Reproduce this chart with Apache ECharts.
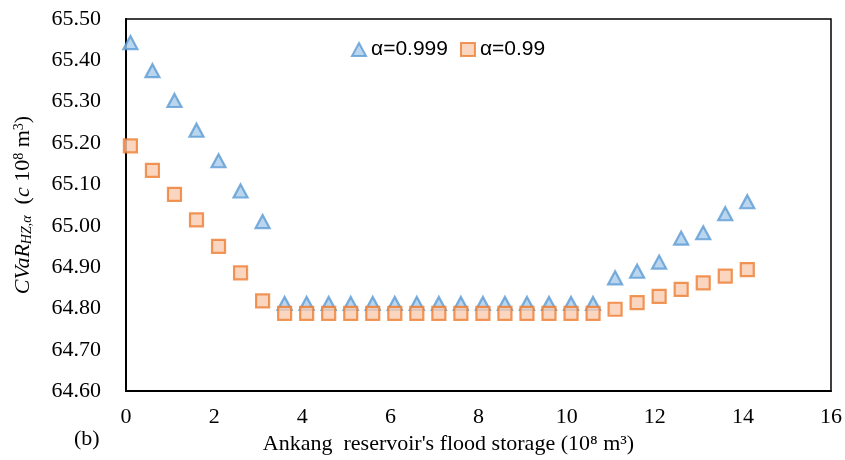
<!DOCTYPE html>
<html>
<head>
<meta charset="utf-8">
<script src="https://cdn.jsdelivr.net/npm/echarts@6/dist/echarts.min.js"></script>
<style>
  html, body { margin: 0; padding: 0; background: #fff; }
  #main { width: 845px; height: 460px; }
</style>
</head>
<body>
<div id="main"></div>
<script>
// storage values (10^8 m3), one every 0.5
const storage = [0.1, 0.6, 1.1, 1.6, 2.1, 2.6, 3.1, 3.6, 4.1, 4.6, 5.1, 5.6, 6.1, 6.6,
  7.1, 7.6, 8.1, 8.6, 9.1, 9.6, 10.1, 10.6, 11.1, 11.6, 12.1, 12.6, 13.1, 13.6, 14.1];

const cvar999 = [65.443, 65.375, 65.303, 65.231, 65.157, 65.084, 65.010,
  64.812, 64.812, 64.812, 64.812, 64.812, 64.812, 64.812, 64.812,
  64.812, 64.812, 64.812, 64.812, 64.812, 64.812, 64.812,
  64.874, 64.890, 64.912, 64.970, 64.983, 65.029, 65.058];

const cvar99 = [65.193, 65.134, 65.076, 65.014, 64.950, 64.886, 64.818,
  64.788, 64.788, 64.788, 64.788, 64.788, 64.788, 64.788, 64.788,
  64.788, 64.788, 64.788, 64.788, 64.788, 64.788, 64.788,
  64.798, 64.814, 64.829, 64.846, 64.862, 64.878, 64.894];

const seriesNames = ['α=0.999', 'α=0.99'];

const pair = (xs, ys) => xs.map((x, i) => [x, ys[i]]);

const serif = 'Liberation Serif';

const myChart = echarts.init(document.getElementById('main'));

const option = {
  animation: false,
  legend: {
    data: seriesNames,
    left: 346,
    top: 34,
    itemWidth: 14,
    itemHeight: 13,
    itemGap: 12,
    textStyle: { fontFamily: 'Liberation Sans', fontSize: 21, color: '#000' }
  },
  grid: {
    left: 126, right: 14, top: 19, bottom: 67,
    show: true, borderColor: '#000', borderWidth: 1.5
  },
  graphic: [{
    type: 'text', left: 74, top: 428,
    style: { text: '(b)', fontFamily: serif, fontSize: 22, fill: '#000' }
  }],
  xAxis: {
    type: 'value',
    min: 0, max: 16, interval: 2,
    splitLine: { show: false },
    axisTick: { show: false },
    axisLine: { lineStyle: { color: '#000', width: 2 } },
    axisLabel: { margin: 15, fontFamily: serif, fontSize: 22, color: '#000' },
    name: "Ankang  reservoir's flood storage (10⁸ m³)",
    nameLocation: 'middle',
    nameGap: 38,
    nameTextStyle: { fontFamily: serif, fontSize: 22, color: '#000', padding: [0, 60, 0, 0] }
  },
  yAxis: {
    type: 'value',
    min: 64.6, max: 65.5, interval: 0.1,
    splitLine: { show: false },
    axisTick: { show: false },
    axisLine: { show: true, lineStyle: { color: '#000', width: 2 } },
    axisLabel: {
      margin: 25, fontFamily: serif, fontSize: 22, color: '#000',
      formatter: v => v.toFixed(2)
    },
    name: '{it|CVaR}{sub|HZ,α}{n|  (}{it|c}{n| 10}{sup|8}{n| m}{sup|3}{n|)}',
    nameLocation: 'middle',
    nameGap: 92,
    nameTextStyle: {
      fontFamily: serif, fontSize: 22, color: '#000',
      rich: {
        it: { fontFamily: serif, fontStyle: 'italic', fontSize: 22, color: '#000' },
        n: { fontFamily: serif, fontSize: 22, color: '#000' },
        sub: { fontFamily: serif, fontStyle: 'italic', fontSize: 14, color: '#000', verticalAlign: 'bottom', padding: [8, 0, 0, 0] },
        sup: { fontFamily: serif, fontSize: 14, color: '#000', verticalAlign: 'top', padding: [0, 0, 8, 0] }
      }
    }
  },
  series: [
    {
      name: seriesNames[0],
      type: 'scatter',
      symbol: 'triangle',
      symbolSize: [14, 13],
      itemStyle: { color: '#A9CBEA', borderColor: '#5B9BD5', borderWidth: 2.2 },
      data: pair(storage, cvar999)
    },
    {
      name: seriesNames[1],
      type: 'scatter',
      symbol: 'rect',
      symbolSize: 13,
      itemStyle: { color: '#F9CCB0', borderColor: '#ED7D31', borderWidth: 2.2 },
      data: pair(storage, cvar99)
    }
  ]
};

myChart.setOption(option);
</script>
</body>
</html>
